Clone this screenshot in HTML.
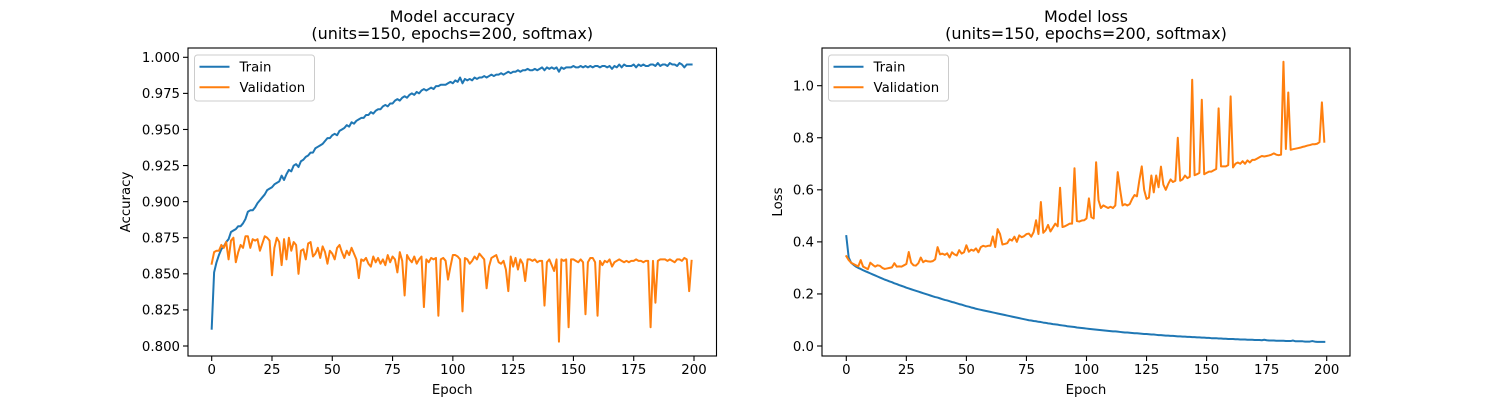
<!DOCTYPE html>
<html><head><meta charset="utf-8"><style>
html,body{margin:0;padding:0;background:#fff;}
svg{display:block;font-family:"DejaVu Sans","Liberation Sans",sans-serif;}
</style></head><body>
<svg id="fig" width="1500" height="400" viewBox="0 0 1500 400"></svg>
<script>
const epochs = Array.from({length:200},(_,i)=>i);
const trainAcc = [
0.812,0.851,0.858,0.863,0.867,0.869,0.872,0.874,0.879,0.880,
0.881,0.883,0.883,0.885,0.888,0.893,0.894,0.894,0.896,0.899,
0.901,0.903,0.905,0.908,0.909,0.910,0.912,0.913,0.914,0.918,
0.915,0.919,0.922,0.921,0.925,0.926,0.924,0.928,0.929,0.931,
0.932,0.934,0.934,0.937,0.938,0.939,0.940,0.942,0.944,0.944,
0.946,0.947,0.946,0.949,0.950,0.951,0.953,0.952,0.955,0.954,
0.956,0.957,0.958,0.958,0.960,0.960,0.962,0.961,0.963,0.964,
0.964,0.966,0.967,0.966,0.968,0.968,0.970,0.971,0.970,0.972,
0.973,0.972,0.974,0.975,0.974,0.976,0.975,0.977,0.978,0.977,
0.978,0.979,0.978,0.980,0.980,0.981,0.981,0.981,0.982,0.983,
0.982,0.984,0.983,0.986,0.982,0.985,0.984,0.985,0.984,0.986,
0.985,0.986,0.986,0.987,0.986,0.987,0.988,0.987,0.988,0.988,
0.989,0.988,0.989,0.990,0.989,0.990,0.990,0.991,0.990,0.991,
0.991,0.992,0.991,0.991,0.992,0.991,0.992,0.993,0.991,0.993,
0.992,0.993,0.992,0.993,0.990,0.993,0.992,0.993,0.993,0.993,
0.994,0.993,0.993,0.994,0.993,0.994,0.993,0.994,0.993,0.994,
0.994,0.993,0.994,0.994,0.993,0.994,0.992,0.994,0.993,0.995,
0.993,0.995,0.994,0.994,0.994,0.995,0.993,0.995,0.994,0.995,
0.994,0.994,0.995,0.995,0.994,0.996,0.994,0.995,0.995,0.994,
0.996,0.995,0.995,0.994,0.996,0.995,0.993,0.995,0.995,0.995];
const valAcc = [
0.857,0.865,0.866,0.866,0.870,0.868,0.872,0.860,0.873,0.875,
0.858,0.865,0.870,0.868,0.876,0.876,0.868,0.874,0.873,0.874,
0.866,0.871,0.876,0.875,0.873,0.849,0.868,0.875,0.872,0.856,
0.874,0.860,0.875,0.866,0.872,0.870,0.850,0.866,0.867,0.860,
0.871,0.872,0.862,0.864,0.868,0.861,0.869,0.865,0.857,0.866,
0.864,0.860,0.868,0.870,0.865,0.861,0.866,0.863,0.868,0.864,
0.860,0.847,0.860,0.859,0.861,0.857,0.855,0.862,0.858,0.861,
0.857,0.860,0.856,0.863,0.858,0.862,0.860,0.851,0.865,0.859,
0.835,0.863,0.860,0.858,0.862,0.857,0.860,0.862,0.827,0.860,
0.858,0.861,0.860,0.861,0.821,0.860,0.861,0.859,0.846,0.855,
0.863,0.863,0.862,0.860,0.824,0.861,0.860,0.857,0.859,0.862,
0.860,0.864,0.862,0.860,0.840,0.855,0.861,0.862,0.863,0.858,
0.857,0.859,0.853,0.838,0.862,0.855,0.861,0.853,0.860,0.857,
0.845,0.860,0.860,0.859,0.860,0.858,0.859,0.859,0.828,0.858,
0.860,0.856,0.852,0.860,0.803,0.860,0.859,0.860,0.813,0.860,
0.860,0.859,0.858,0.860,0.858,0.822,0.858,0.861,0.861,0.858,
0.821,0.859,0.856,0.859,0.858,0.860,0.855,0.858,0.859,0.860,
0.859,0.858,0.859,0.858,0.859,0.859,0.860,0.859,0.859,0.858,
0.859,0.859,0.813,0.859,0.830,0.859,0.860,0.860,0.860,0.859,
0.860,0.859,0.858,0.860,0.860,0.859,0.861,0.860,0.838,0.859];
const trainLoss = [
0.422,0.340,0.320,0.312,0.305,0.300,0.296,0.291,0.287,0.283,
0.279,0.275,0.271,0.267,0.263,0.259,0.255,0.252,0.248,0.245,
0.241,0.238,0.234,0.231,0.228,0.224,0.221,0.218,0.215,0.212,
0.209,0.206,0.203,0.200,0.197,0.194,0.191,0.188,0.186,0.183,
0.180,0.177,0.175,0.172,0.169,0.167,0.164,0.161,0.159,0.156,
0.153,0.151,0.148,0.146,0.143,0.141,0.139,0.137,0.135,0.133,
0.131,0.129,0.127,0.125,0.123,0.121,0.119,0.117,0.115,0.113,
0.111,0.109,0.107,0.105,0.103,0.101,0.099,0.098,0.096,0.095,
0.093,0.092,0.090,0.089,0.087,0.086,0.084,0.083,0.082,0.080,
0.079,0.078,0.076,0.075,0.074,0.073,0.071,0.070,0.069,0.068,
0.067,0.066,0.065,0.064,0.063,0.062,0.061,0.060,0.059,0.058,
0.057,0.056,0.056,0.055,0.054,0.053,0.052,0.052,0.051,0.050,
0.049,0.049,0.048,0.047,0.046,0.046,0.045,0.044,0.044,0.043,
0.042,0.042,0.041,0.040,0.040,0.039,0.039,0.038,0.037,0.037,
0.036,0.036,0.035,0.035,0.034,0.034,0.033,0.033,0.032,0.032,
0.031,0.031,0.030,0.030,0.030,0.029,0.029,0.028,0.028,0.027,
0.027,0.027,0.026,0.026,0.025,0.025,0.025,0.024,0.024,0.024,
0.023,0.023,0.023,0.022,0.024,0.022,0.021,0.021,0.021,0.020,
0.020,0.020,0.020,0.019,0.019,0.019,0.021,0.018,0.018,0.018,
0.018,0.017,0.017,0.017,0.019,0.017,0.016,0.016,0.016,0.016];
const valLoss = [
0.345,0.330,0.320,0.315,0.310,0.306,0.330,0.305,0.300,0.295,
0.320,0.312,0.305,0.310,0.308,0.300,0.296,0.298,0.300,0.302,
0.318,0.305,0.306,0.305,0.310,0.315,0.361,0.320,0.310,0.309,
0.318,0.340,0.322,0.328,0.325,0.324,0.326,0.333,0.380,0.352,
0.355,0.350,0.356,0.340,0.360,0.352,0.348,0.368,0.355,0.360,
0.387,0.362,0.370,0.366,0.375,0.360,0.380,0.385,0.382,0.385,
0.385,0.421,0.380,0.449,0.430,0.390,0.392,0.395,0.410,0.405,
0.420,0.400,0.425,0.418,0.422,0.430,0.432,0.420,0.438,0.483,
0.430,0.553,0.435,0.445,0.465,0.440,0.455,0.470,0.460,0.608,
0.457,0.460,0.465,0.470,0.470,0.683,0.480,0.478,0.482,0.483,
0.490,0.567,0.495,0.490,0.706,0.560,0.530,0.540,0.535,0.530,
0.535,0.530,0.540,0.668,0.600,0.540,0.545,0.540,0.545,0.565,
0.580,0.575,0.636,0.690,0.600,0.565,0.570,0.655,0.590,0.655,
0.610,0.689,0.620,0.600,0.622,0.640,0.630,0.635,0.800,0.635,
0.640,0.655,0.645,0.650,1.023,0.656,0.660,0.665,0.946,0.660,
0.665,0.670,0.670,0.675,0.680,0.913,0.690,0.690,0.690,0.695,
0.959,0.686,0.700,0.705,0.700,0.710,0.700,0.713,0.705,0.715,
0.715,0.720,0.725,0.730,0.728,0.730,0.732,0.735,0.740,0.735,
0.733,0.735,1.092,0.757,0.974,0.754,0.756,0.758,0.760,0.762,
0.765,0.767,0.770,0.772,0.775,0.775,0.777,0.783,0.936,0.785];
const xTicks = [0,25,50,75,100,125,150,175,200];
const accTicks = [0.800,0.825,0.850,0.875,0.900,0.925,0.950,0.975,1.000];
const lossTicks = [0.0,0.2,0.4,0.6,0.8,1.0];

const NS='http://www.w3.org/2000/svg';
const svg=document.getElementById('fig');
function mk(tag,attrs,parent){const e=document.createElementNS(NS,tag);for(const k in attrs)e.setAttribute(k,attrs[k]);(parent||svg).appendChild(e);return e;}

function panel(o){
  const g=mk('g',{});
  
  
  const sx=v=>o.x0+(v-0)*(o.x200-o.x0)/200;
  const sy=v=>o.yb+(v-o.vb)*(o.yt-o.yb)/(o.vt-o.vb);
  const series=[[o.tr,'#1f77b4','train-line'],[o.va,'#ff7f0e','validation-line']];
  series.forEach(s=>{
    const d=s[0].map((v,i)=>(i?'L':'M')+sx(epochs[i]).toFixed(2)+' '+sy(v).toFixed(2)).join(' ');
    const p=mk('path',{d:d,fill:'none',stroke:s[1],'stroke-width':2,'stroke-linejoin':'round','stroke-linecap':'square'},g);
    
    
  });
  const fr=mk('rect',{x:o.L,y:48,width:o.R-o.L,height:308,fill:'none',stroke:'#000','stroke-width':1.1},g);
  
  
  xTicks.forEach(t=>{
    const x=sx(t);
    mk('line',{x1:x,x2:x,y1:356,y2:361,stroke:'#000','stroke-width':1.1},g);
    const tx=mk('text',{x:x,y:374,'font-size':'13.3','text-anchor':'middle',fill:'#000'},g);
    tx.textContent=String(t);
    
    
  });
  o.ticks.forEach(t=>{
    const y=sy(t);
    mk('line',{x1:o.L-5,x2:o.L,y1:y,y2:y,stroke:'#000','stroke-width':1.1},g);
    const tx=mk('text',{x:o.L-8,y:y+4.8,'font-size':'13.3','text-anchor':'end',fill:'#000'},g);
    tx.textContent=t.toFixed(o.dec);
    
    
  });
  const xl=mk('text',{x:(o.L+o.R)/2,y:394,'font-size':'13.3','text-anchor':'middle'},g);
  xl.textContent='Epoch';
  
  
  const yl=mk('text',{x:o.ylx,y:202,'font-size':'13.3','text-anchor':'middle',transform:'rotate(-90 '+o.ylx+' 202)'},g);
  yl.textContent=o.ylabel;
  
  
  const t1=mk('text',{x:(o.L+o.R)/2,y:22,'font-size':'16','text-anchor':'middle'},g);
  t1.textContent=o.title;
  
  
  const t2=mk('text',{x:(o.L+o.R)/2,y:39,'font-size':'16','text-anchor':'middle'},g);
  t2.textContent='(units=150, epochs=200, softmax)';
  
  
  const lg=mk('g',{},g);
  
  
  mk('rect',{x:o.L+6.5,y:55,width:120,height:46,rx:3,fill:'#fff','fill-opacity':0.8,stroke:'#ccc','stroke-width':1},lg);
  [['Train','#1f77b4',66.7],['Validation','#ff7f0e',87.3]].forEach(e=>{
    const eg=mk('g',{},lg);
    
    
    mk('line',{x1:o.L+11.5,x2:o.L+41.5,y1:e[2],y2:e[2],stroke:e[1],'stroke-width':2},eg);
    const t=mk('text',{x:o.L+51.5,y:e[2]+4.8,'font-size':'13.3'},eg);
    t.textContent=e[0];
  });
}
panel({name:'accuracy-chart',L:188,R:716.5,x0:211.7,x200:694,yb:346,vb:0.8,yt:57.3,vt:1.0,tr:trainAcc,va:valAcc,ticks:accTicks,dec:3,ylabel:'Accuracy',ylx:130,title:'Model accuracy'});
panel({name:'loss-chart',L:822,R:1350,x0:846.3,x200:1326.7,yb:346,vb:0,yt:85.7,vt:1.0,tr:trainLoss,va:valLoss,ticks:lossTicks,dec:1,ylabel:'Loss',ylx:782,title:'Model loss'});
</script>
</body></html>
